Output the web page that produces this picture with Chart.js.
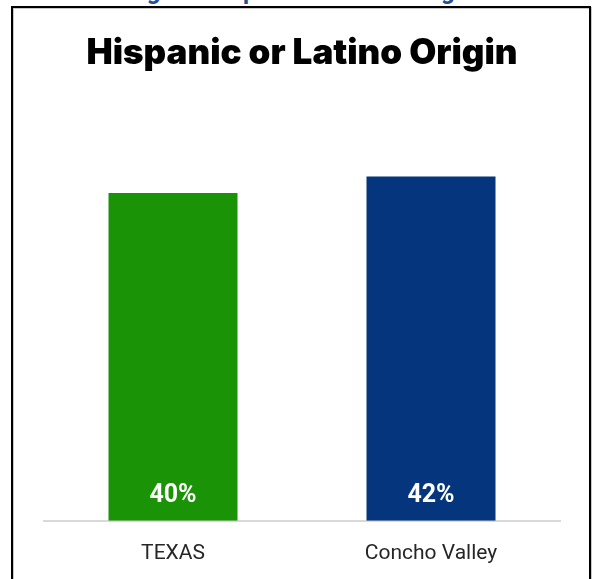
<!DOCTYPE html>
<html lang="en">
<head>
    <meta charset="UTF-8">
    <title>Hispanic or Latino Origin</title>
    <script src="https://cdn.jsdelivr.net/npm/chart.js"></script>
    <style>
        body { margin: 0; background: #fff; width: 597px; height: 579px; overflow: hidden; position: relative; }
        #heading {
            position: absolute; left: 50px; top: -21px;
            font: bold 24px Roboto, sans-serif; line-height: 1;
            color: #1f4fa0; white-space: nowrap;
        }
        #frame {
            position: absolute; left: 11px; top: 6px; width: 576px; height: 620px;
            border: 2px solid #000;
            box-shadow: inset 1px 1px 0 #c8c8c8, 1px 1px 0 #c8c8c8;
        }
        #chart { position: absolute; left: 0; top: 0; }
    </style>
</head>
<body>
    <div id="heading">Percentage of Hispanic or Latino Origin</div>
    <div id="frame"></div>
    <canvas id="chart" width="597" height="579"></canvas>

    <script>
        const regions = ["TEXAS", "Concho Valley"];
        const hispanicPct = [40, 42];
        const barColors = ["#1a9306", "#05357c"];

        // white value labels sitting near the base of each bar
        const baseLabels = {
            id: "baseLabels",
            afterDatasetsDraw(chart) {
                const ctx = chart.ctx;
                const meta = chart.getDatasetMeta(0);
                ctx.save();
                ctx.fillStyle = "#fff";
                ctx.font = "bold 25px Roboto, sans-serif";
                ctx.textAlign = "center";
                ctx.textBaseline = "middle";
                meta.data.forEach(function(bar, i) {
                    ctx.fillText(hispanicPct[i] + "%", bar.x, bar.base - 25);
                });
                ctx.restore();
            }
        };

        new Chart(document.getElementById("chart"), {
            type: "bar",
            data: {
                labels: regions,
                datasets: [{
                    data: hispanicPct,
                    backgroundColor: barColors,
                    categoryPercentage: 1,
                    barPercentage: 0.5
                }]
            },
            options: {
                responsive: false,
                animation: false,
                layout: { padding: { left: 44, right: 37, top: 0, bottom: -7 } },
                plugins: {
                    legend: { display: false },
                    tooltip: { enabled: false },
                    title: {
                        display: true,
                        text: "Hispanic or Latino Origin",
                        color: "#000",
                        font: { family: "Inter", size: 35, weight: 900, lineHeight: 1.2 },
                        padding: { top: 32, bottom: 37 }
                    }
                },
                scales: {
                    x: {
                        grid: { display: false, drawTicks: false },
                        border: { display: true, color: "#d9d9d9", width: 2 },
                        ticks: {
                            color: "#262626",
                            padding: 20,
                            font: { family: "Roboto", size: 21 }
                        }
                    },
                    y: {
                        display: false,
                        min: 0,
                        max: 50
                    }
                }
            },
            plugins: [baseLabels]
        });
    </script>
</body>
</html>
